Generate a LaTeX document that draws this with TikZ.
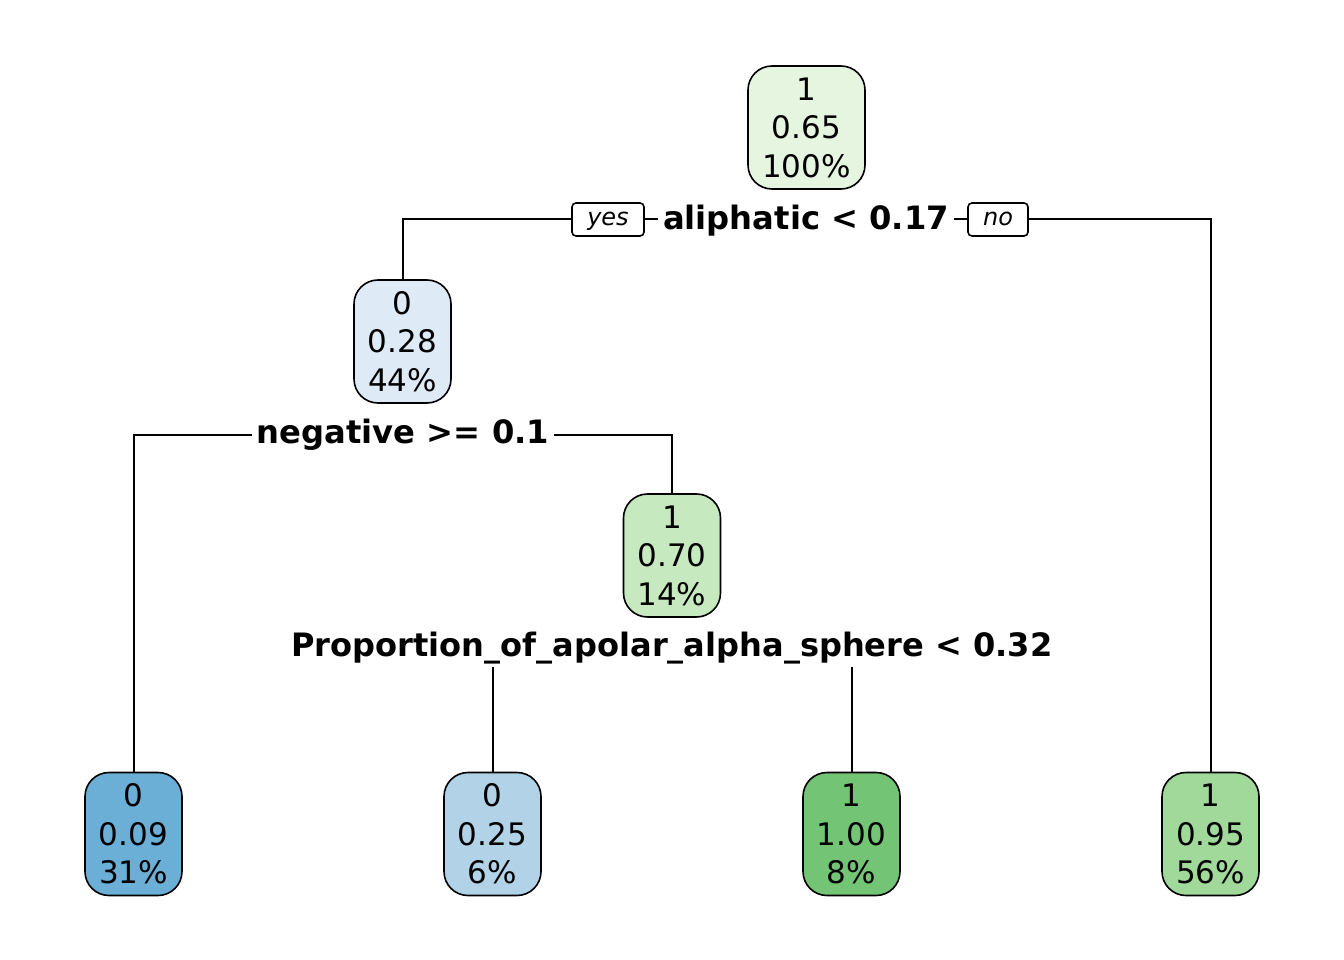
\documentclass[tikz,border=0pt]{standalone}
\usepackage{fontspec}
\setmainfont{DejaVu Sans}
\definecolor{cRoot}{HTML}{E5F5E0}
\definecolor{cNa}{HTML}{DEEBF7}
\definecolor{cNb}{HTML}{C7E9C0}
\definecolor{cLa}{HTML}{6BAED6}
\definecolor{cLb}{HTML}{B2D2E7}
\definecolor{cLc}{HTML}{74C476}
\definecolor{cLd}{HTML}{A1D99B}
\tikzset{
  treenode/.style={draw=black, line width=1.6pt, rounded corners=24pt, minimum width=97pt, minimum height=123pt, align=center, inner sep=0pt, font=\fontsize{31}{38.5}\selectfont},
  splitlabel/.style={inner xsep=5pt, inner ysep=2pt, font=\fontsize{32.2}{36}\selectfont\bfseries},
  yesno/.style={draw=black, line width=1.6pt, rounded corners=4pt, minimum height=33pt, inner sep=0pt, text height=17pt, text depth=4.5pt, font=\fontsize{24}{28}\selectfont\itshape},
  edge/.style={line width=2pt}
}
\begin{document}
\begin{tikzpicture}[x=1pt,y=-1pt]
\useasboundingbox (0,0) rectangle (1344,960);
\fill[white] (0,0) rectangle (1344,960);
% nodes
\node[treenode, fill=cRoot, minimum width=117pt] (n1) at (806.5,127.5) {1\\0.65\\100\%};
\node[treenode, fill=cNa] (n2) at (402.5,341.5) {0\\0.28\\44\%};
\node[treenode, fill=cNb] (n3) at (672,555.5) {1\\0.70\\14\%};
\node[treenode, fill=cLa] (l1) at (133.5,834) {0\\0.09\\31\%};
\node[treenode, fill=cLb] (l2) at (492.5,834) {0\\0.25\\6\%};
\node[treenode, fill=cLc] (l3) at (851.5,834) {1\\1.00\\8\%};
\node[treenode, fill=cLd] (l4) at (1210.5,834) {1\\0.95\\56\%};
% split labels
\node[splitlabel] (s1) at (806,220.5) {aliphatic < 0.17};
\node[splitlabel] (s2) at (403,434.5) {negative >= 0.1};
\node[splitlabel] (s3) at (672,648.5) {\resizebox{761pt}{\height}{Proportion\_of\_apolar\_alpha\_sphere < 0.32}};
\node[yesno, minimum width=72pt] (yes) at (608,219.5) {yes};
\node[yesno, minimum width=60pt] (no) at (998,219.5) {no};
\coordinate (c3a) at (492.5,667);
\coordinate (c3b) at (851.5,667);
% connectors
\draw[edge] (n2.north) |- (yes.west);
\draw[edge] (yes.east) -- (yes.east -| s1.west);
\draw[edge] (no.west -| s1.east) -- (no.west);
\draw[edge] (no.east) -| (l4.north);
\draw[edge] (s2.west) -| (l1.north);
\draw[edge] (s2.east) -| (n3.north);
\draw[edge] (c3a) -- (l2.north);
\draw[edge] (c3b) -- (l3.north);
\end{tikzpicture}
\end{document}
